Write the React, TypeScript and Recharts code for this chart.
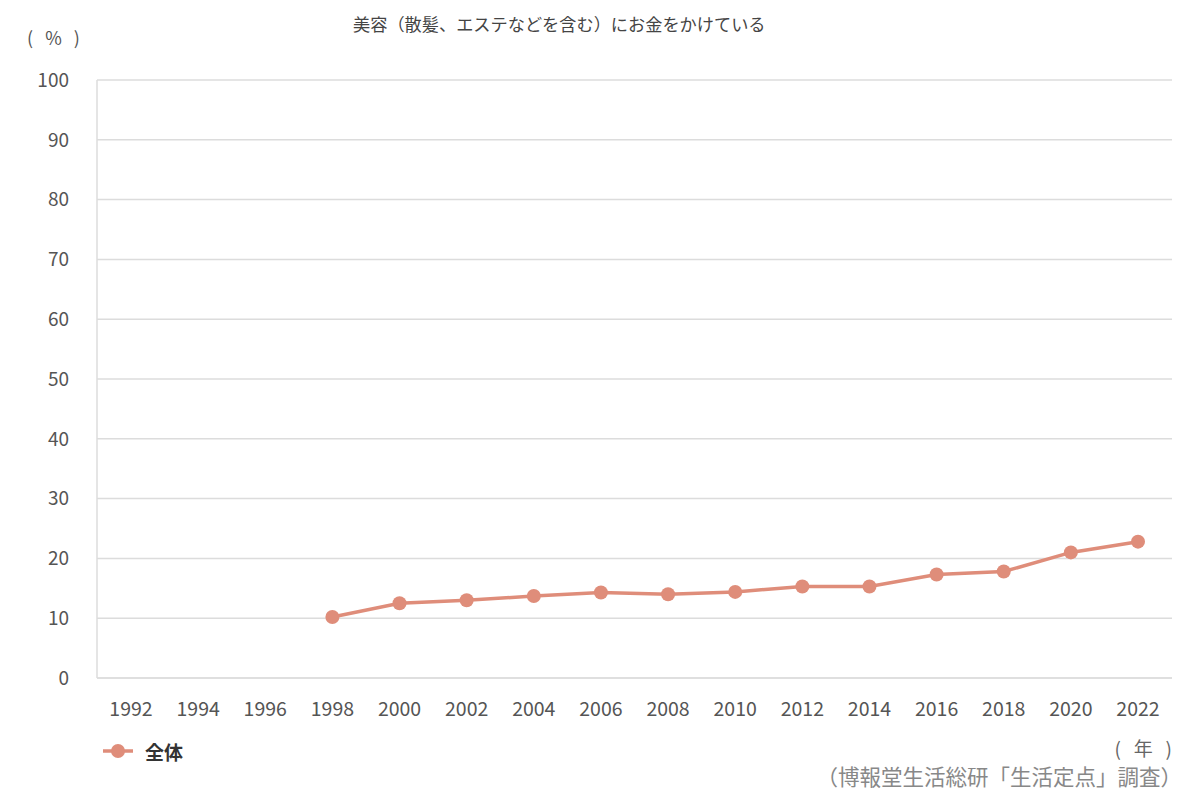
import { LineChart, Line, XAxis, YAxis, CartesianGrid, Legend } from "recharts";

const years = [
  "1992", "1994", "1996", "1998", "2000", "2002", "2004", "2006",
  "2008", "2010", "2012", "2014", "2016", "2018", "2020", "2022",
];

// 全体 (%), no survey before 1998
const overall: (number | null)[] = [
  null, null, null, 10.2, 12.5, 13.0, 13.7, 14.3,
  14.0, 14.4, 15.3, 15.3, 17.3, 17.8, 21.0, 22.8,
];

const yTicks = [0, 10, 20, 30, 40, 50, 60, 70, 80, 90, 100];

const title = "美容（散髪、エステなどを含む）にお金をかけている";
const seriesName = "全体";
const source = "（博報堂生活総研「生活定点」調査）";

const FONT = '"Noto Sans CJK JP", "Noto Sans", sans-serif';
const LINE_COLOR = "#DF8D7A";

const chartData = years.map((year, i) => ({ year, overall: overall[i] }));

const LegendContent = () => (
  <div style={{ display: "flex", alignItems: "center", fontFamily: FONT, height: 20 }}>
    <svg width={30} height={20}>
      <line x1={0} y1={10} x2={30} y2={10} stroke={LINE_COLOR} strokeWidth={3.5} />
      <circle cx={15} cy={10} r={7} fill={LINE_COLOR} />
    </svg>
    <span style={{ marginLeft: 12, fontSize: 19, fontWeight: 700, color: "#333" }}>{seriesName}</span>
  </div>
);

export default function App() {
  return (
    <div style={{ position: "absolute", left: 0, top: 0, width: 1200, height: 800, background: "#fff", fontFamily: FONT }}>
      <div style={{ position: "absolute", left: 353, top: 11, fontSize: 17.2, color: "#444", whiteSpace: "nowrap" }}>
        {title}
      </div>
      <div style={{ position: "absolute", left: 27, top: 24, fontSize: 18, color: "#555", whiteSpace: "pre" }}>
        {"(   %   )"}
      </div>
      <div style={{ position: "absolute", right: 28, top: 734, fontSize: 19, color: "#666", whiteSpace: "pre" }}>
        {"(   年   )"}
      </div>
      <div style={{ position: "absolute", right: 18, top: 760, fontSize: 21.5, color: "#888", whiteSpace: "nowrap" }}>
        {source}
      </div>
      <LineChart
        width={1200}
        height={800}
        data={chartData}
        margin={{ top: 80, right: 28, left: 0, bottom: 72 }}
      >
        <CartesianGrid vertical={false} stroke="#dcdcdc" strokeWidth={1.5} />
        <XAxis
          dataKey="year"
          height={30}
          padding={{ left: 34, right: 34 }}
          axisLine={{ stroke: "#dcdcdc", strokeWidth: 1.5 }}
          tickLine={false}
          tickSize={0}
          tickMargin={24}
          interval={0}
          tick={{ fontSize: 19.5, fill: "#555", fontFamily: FONT }}
        />
        <YAxis
          width={97}
          domain={[0, 100]}
          ticks={yTicks}
          axisLine={{ stroke: "#dcdcdc", strokeWidth: 1.5 }}
          tickLine={false}
          tickSize={0}
          tickMargin={28}
          tick={{ fontSize: 19, fill: "#555", fontFamily: FONT }}
        />
        <Legend
          content={<LegendContent />}
          wrapperStyle={{ position: "absolute", left: 103, top: 741, width: "auto" }}
        />
        <Line
          type="linear"
          dataKey="overall"
          name={seriesName}
          stroke={LINE_COLOR}
          strokeWidth={3.5}
          dot={{ r: 7, fill: LINE_COLOR, stroke: LINE_COLOR, strokeWidth: 0 }}
          activeDot={false}
          isAnimationActive={false}
        />
      </LineChart>
    </div>
  );
}
